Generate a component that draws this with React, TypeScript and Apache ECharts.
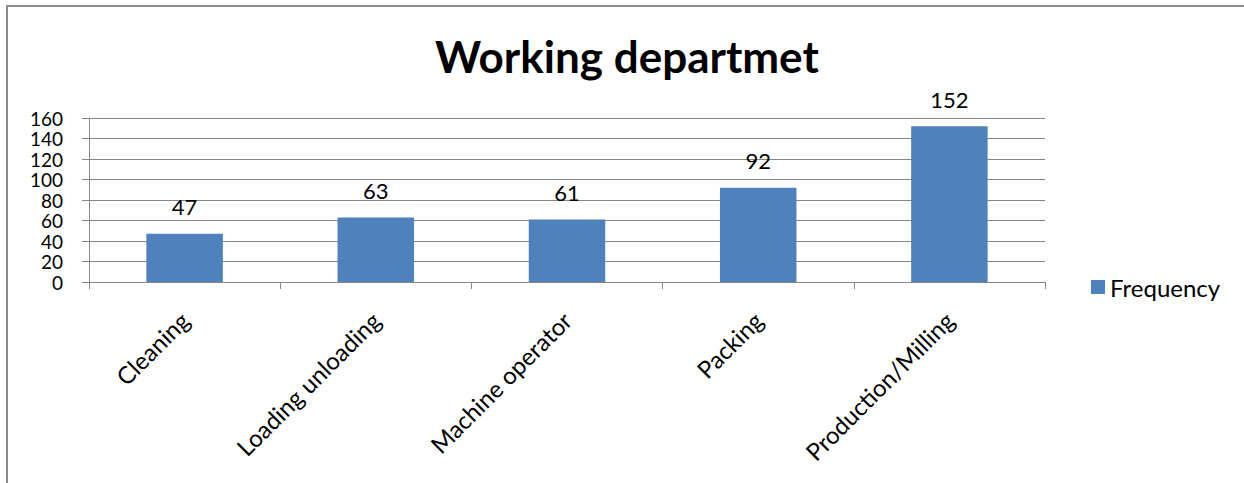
import React, { useEffect, useRef } from "react";
import * as echarts from "echarts";

const categories = ["Cleaning", "Loading unloading", "Machine operator", "Packing", "Production/Milling"];
const frequency = [47, 63, 61, 92, 152];
const seriesName = "Frequency";
const titleText = "Working departmet";

const FONT = "Lato, 'Open Sans', sans-serif";

export default function App() {
  const ref = useRef<HTMLDivElement>(null);
  useEffect(() => {
    if (!ref.current) return;
    const chart = echarts.init(ref.current, null, { renderer: "svg" });
    chart.setOption({
      animation: false,
      backgroundColor: "#ffffff",
      textStyle: { fontFamily: FONT },
      title: {
        text: titleText,
        left: 430,
        top: 29,
        textStyle: { fontSize: 44, fontWeight: "bold", color: "#000", fontFamily: FONT },
      },
      legend: {
        data: [seriesName],
        left: 1086,
        top: 270,
        orient: "vertical",
        itemWidth: 14,
        itemHeight: 14,
        itemGap: 8,
        textStyle: { fontSize: 24, color: "#000", fontFamily: FONT },
        icon: "rect",
      },
      grid: { left: 89, right: 199, top: 118, bottom: 201, containLabel: false },
      xAxis: {
        type: "category",
        data: categories,
        axisLine: { show: true, lineStyle: { color: "#868686", width: 1 } },
        axisTick: { show: true, alignWithLabel: false, length: 7, lineStyle: { color: "#868686" } },
        axisLabel: {
          rotate: 45,
          fontSize: 24,
          color: "#000",
          margin: 34,
          fontFamily: FONT,
          interval: 0,
        },
        splitLine: { show: false },
      },
      yAxis: {
        type: "value",
        min: 0,
        max: 160,
        interval: 20,
        axisLine: { show: true, lineStyle: { color: "#868686", width: 1 } },
        axisTick: { show: true, length: 7, lineStyle: { color: "#868686" } },
        axisLabel: { fontSize: 19, color: "#000", margin: 26, fontFamily: FONT, lineHeight: 16 },
        splitLine: { show: true, lineStyle: { color: "#868686", width: 1 } },
      },
      series: [
        {
          name: seriesName,
          type: "bar",
          data: frequency,
          barWidth: "40%",
          itemStyle: { color: "#4F81BD" },
          label: { show: true, position: "top", distance: 16, fontSize: 22, color: "#000", fontFamily: FONT },
        },
      ],
      graphic: [
        {
          type: "rect",
          shape: { x: 7, y: 6, width: 1300, height: 600 },
          style: { fill: "none", stroke: "#8c8c8c", lineWidth: 2 },
          silent: true,
        },
      ],
    });
    return () => chart.dispose();
  }, []);
  return (
    <div
      ref={ref}
      style={{ position: "fixed", left: 0, top: 0, width: 1244, height: 483 }}
    />
  );
}
